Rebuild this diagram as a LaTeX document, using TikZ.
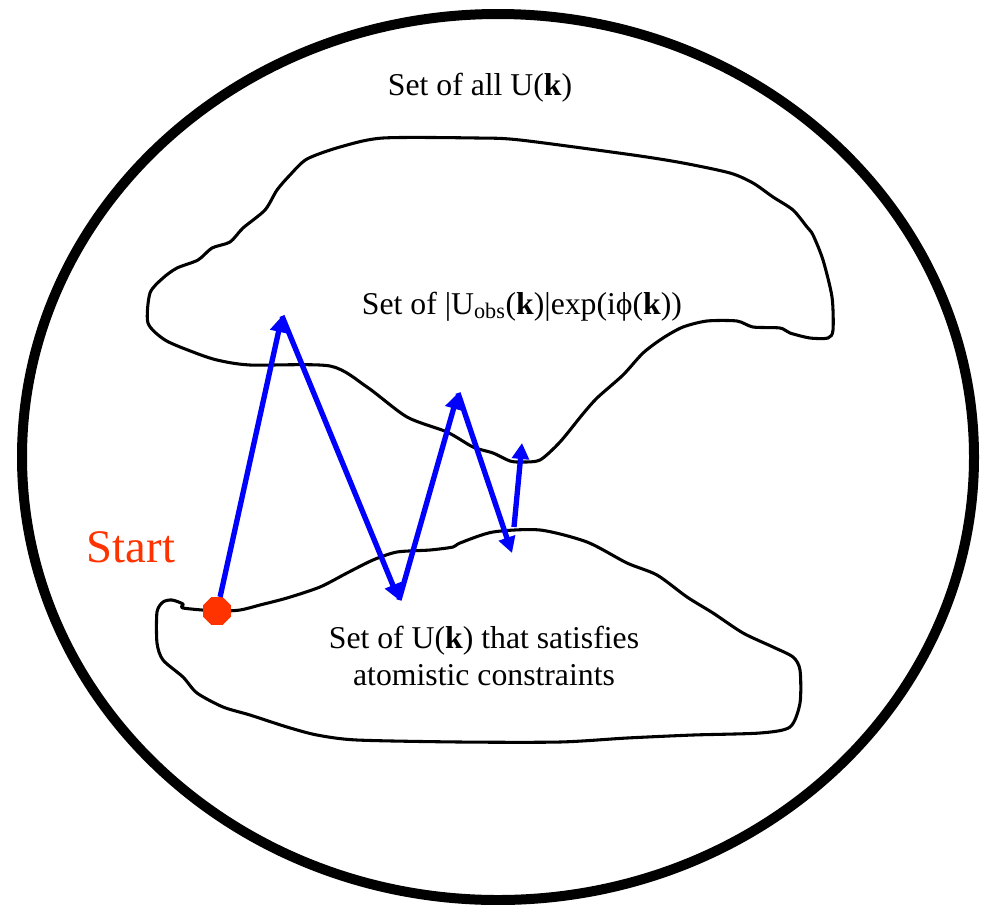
\documentclass[tikz,border=0pt]{standalone}
\usepackage{fontspec}
\setmainfont{Liberation Serif}
\usepackage{tikz}
\usetikzlibrary{arrows.meta,shapes.geometric}

\definecolor{startred}{RGB}{255,51,0}
\definecolor{walkblue}{RGB}{0,0,255}

\begin{document}
\begin{tikzpicture}[x=0.75pt, y=-0.75pt,
      outer/.style={line width=7.5pt, black},
      blob/.style={line width=2.3pt, black, line join=round},
      walk/.style={-{Triangle[length=12pt, width=12.5pt]}, line width=4pt, walkblue},
      lab/.style={font=\fontsize{23.8pt}{27.75pt}\selectfont, align=center, inner sep=0pt, anchor=base}
    ]
    \useasboundingbox (0,0) rectangle (984,904);

    % set of all U(k)
    \draw[outer] (498,457) ellipse [x radius=476, y radius=443];
    \node[lab] (alllab) at (480,95) {Set of all U(\textbf{k})};

    % observed-amplitude set
    \draw[blob] plot[smooth cycle, tension=0.45] coordinates {
      (383,138) (477,138) (520,140) (633,155) (683,163) (730,173) (753,183)
      (773,197) (793,210) (807,227) (813,235) (823,260) (832,297) (833,330)
      (828,338) (810,338) (790,333) (780,328) (753,327) (737,321) (707,321)
      (683,327) (663,338) (643,353) (623,375) (597,398) (582,415) (560,442)
      (540,460) (522,462) (510,461) (493,453) (473,447) (447,432) (407,417)
      (367,387) (330,366) (250,365) (217,360) (193,352) (165,340) (148,323)
      (150,293) (163,278) (177,268) (198,260) (212,248) (230,242) (243,228)
      (265,210) (277,190) (290,175) (307,159) (340,147)};
    \node[lab] (obslab) at (522,314)
      {Set of |U\textsubscript{obs}(\textbf{k})|exp(i\char"03D5(\textbf{k}))};

    % atomistic-constraint set
    \draw[blob] plot[smooth cycle, tension=0.45] coordinates {
      (217,611) (183,608) (183,604) (172,600) (163,602) (157,612) (157,643)
      (163,660) (183,677) (197,693) (223,707) (250,715) (287,727) (317,735)
      (357,740) (460,742) (560,742) (627,738) (693,735) (760,733) (790,727)
      (800,703) (800,670) (793,657) (773,647) (743,633) (713,613) (687,597)
      (657,575) (627,563) (587,542) (540,530) (493,532) (460,543) (453,547)
      (430,550) (397,552) (373,560) (347,573) (320,587) (287,598) (260,605)
      (240,610)};
    \node[lab] (atomlab) at (484,685)
      {Set of U(\textbf{k}) that satisfies\\atomistic constraints};

    % iteration path
    \node[regular polygon, regular polygon sides=8, minimum size=22.5pt,
      inner sep=0pt, fill=startred] (start) at (217,611) {};
    \node[font=\fontsize{35pt}{40pt}\selectfont, text=startred, anchor=base,
      inner sep=0pt] (startlab) at (131,562) {Start};
    \coordinate (t1) at (282,316);
    \coordinate (b1) at (399,600);
    \coordinate (t2) at (458,393);
    \coordinate (b2) at (512,553);
    \coordinate (c5) at (514,527);
    \coordinate (t3) at (522,443);
    \draw[walk] (start) -- (t1);
    \draw[walk] (t1) -- (b1);
    \draw[walk] (b1) -- (t2);
    \draw[walk] (t2) -- (b2);
    \draw[walk] (c5) -- (t3);
  \end{tikzpicture}
\end{document}
